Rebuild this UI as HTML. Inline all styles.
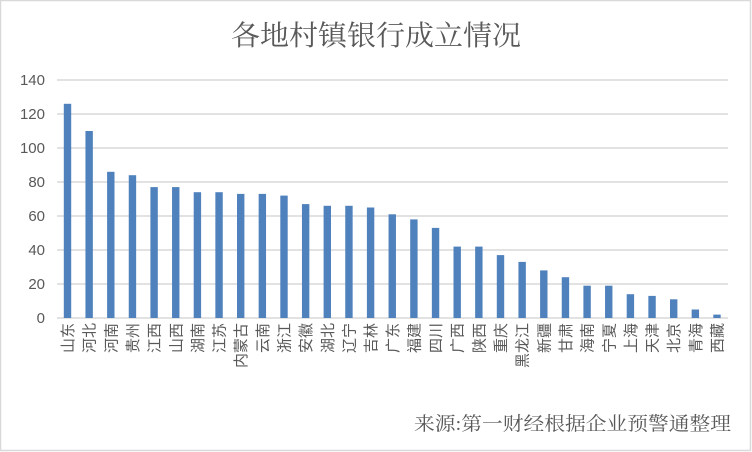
<!DOCTYPE html>
<html><head><meta charset="utf-8"><style>
html,body{margin:0;padding:0;background:#fff}
svg{display:block}
</style></head><body>
<svg width="752" height="452" xmlns="http://www.w3.org/2000/svg">
<rect x="0.5" y="0.5" width="750" height="450" fill="#fff" stroke="#d9d9d9" stroke-width="1.5"/>
<text x="376" y="45" text-anchor="middle" font-family="'Noto Serif CJK SC',serif" font-size="28" fill="#595959" textLength="290" lengthAdjust="spacingAndGlyphs">各地村镇银行成立情况</text>
<g stroke="#d9d9d9" stroke-width="1.5">
<line x1="57" x2="728" y1="80" y2="80"/><line x1="57" x2="728" y1="114" y2="114"/>
<line x1="57" x2="728" y1="148" y2="148"/><line x1="57" x2="728" y1="182" y2="182"/>
<line x1="57" x2="728" y1="216" y2="216"/><line x1="57" x2="728" y1="250" y2="250"/>
<line x1="57" x2="728" y1="284" y2="284"/><line x1="57" x2="728" y1="318" y2="318"/>
</g>
<g font-family="Liberation Sans,sans-serif" font-size="15" fill="#595959" text-anchor="end">
<text x="45" y="85">140</text><text x="45" y="119">120</text><text x="45" y="153">100</text>
<text x="45" y="187">80</text><text x="45" y="221">60</text><text x="45" y="255">40</text>
<text x="45" y="289">20</text><text x="45" y="323">0</text>
</g>
<g id="bars" fill="#4f81bd"></g>
<g id="labels" font-family="'Noto Sans CJK SC',sans-serif" font-size="15" fill="#595959"></g>
<text x="731" y="430" text-anchor="end" font-family="Liberation Serif,'Noto Serif CJK SC',serif" font-size="19" fill="#595959" textLength="317" lengthAdjust="spacingAndGlyphs">来源:第一财经根据企业预警通整理</text>
<script>
var d=[["山东",126],["河北",110],["河南",86],["贵州",84],["江西",77],["山西",77],["湖南",74],["江苏",74],["内蒙古",73],["云南",73],["浙江",72],["安徽",67],["湖北",66],["辽宁",66],["吉林",65],["广东",61],["福建",58],["四川",53],["广西",42],["陕西",42],["重庆",37],["黑龙江",33],["新疆",28],["甘肃",24],["海南",19],["宁夏",19],["上海",14],["天津",13],["北京",11],["青海",5],["西藏",2]];
var ns="http://www.w3.org/2000/svg",b=document.getElementById("bars"),l=document.getElementById("labels");
d.forEach(function(e,i){var cx=67.5+i*21.65,h=e[1]*1.7;
var r=document.createElementNS(ns,"rect");r.setAttribute("x",cx-3.7);r.setAttribute("width",7.4);r.setAttribute("y",318-h);r.setAttribute("height",h);b.appendChild(r);
var t=document.createElementNS(ns,"text");t.setAttribute("text-anchor","end");t.setAttribute("transform","translate("+(cx+5.5)+",323) rotate(-90)");t.textContent=e[0];l.appendChild(t);});
</script>
</svg>
</body></html>
